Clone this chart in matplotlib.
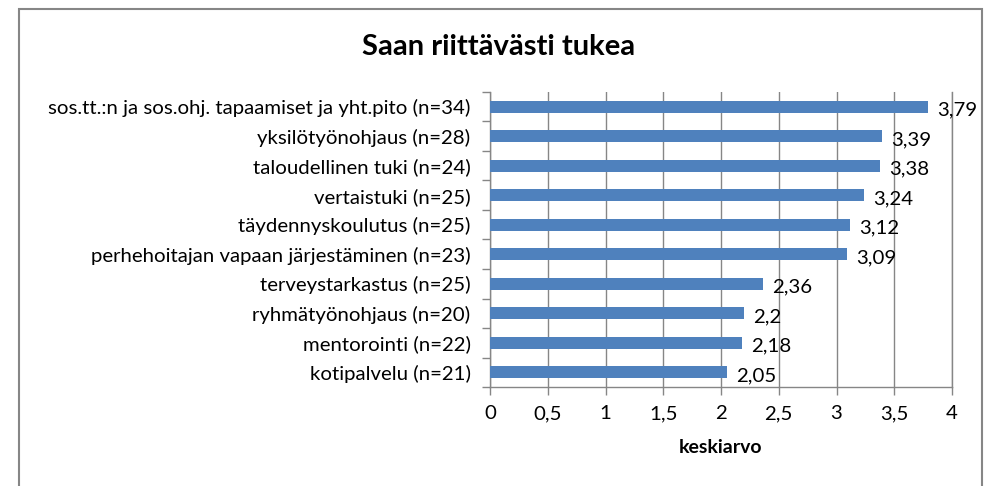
import matplotlib.pyplot as plt
from matplotlib.patches import Rectangle
from matplotlib.ticker import FixedLocator

plt.rcParams['font.family'] = ['Lato', 'DejaVu Sans']

labels = [
    "sos.tt.:n ja sos.ohj. tapaamiset ja yht.pito (n=34)",
    "yksilötyönohjaus (n=28)",
    "taloudellinen tuki (n=24)",
    "vertaistuki (n=25)",
    "täydennyskoulutus (n=25)",
    "perhehoitajan vapaan järjestäminen (n=23)",
    "terveystarkastus (n=25)",
    "ryhmätyönohjaus (n=20)",
    "mentorointi (n=22)",
    "kotipalvelu (n=21)",
]
values = [3.79, 3.39, 3.38, 3.24, 3.12, 3.09, 2.36, 2.2, 2.18, 2.05]
x_ticks = [0, 0.5, 1, 1.5, 2, 2.5, 3, 3.5, 4]

W, H = 987, 486
fig = plt.figure(figsize=(W / 100, H / 100), dpi=100)

# outer chart border (Excel style)
fig.patches.append(Rectangle((19 / W, -0.05), (982 - 19) / W, 1.05 - 9 / H,
                             transform=fig.transFigure, fill=False,
                             edgecolor='#868686', linewidth=1.5))

ax = fig.add_axes([490 / W, 1 - 387 / H, (952 - 490) / W, (387 - 92) / H])

y = list(range(len(labels)))
ax.barh(y, values, height=0.4, color='#4F81BD', zorder=3)
ax.set_ylim(len(labels) - 0.5, -0.5)
ax.set_xlim(0, 4)

fs = 14.7
ax.set_yticks(y)
ax.set_yticklabels(labels, fontsize=fs)
ax.tick_params(axis='y', length=0, pad=14)
ax.yaxis.set_minor_locator(FixedLocator([i - 0.5 for i in range(len(labels) + 1)]))
ax.tick_params(axis='y', which='minor', length=6, color='#868686', width=1)

ax.set_xticks(x_ticks)
ax.set_xticklabels([str(t).replace('.', ',') if t % 1 else str(int(t)) for t in x_ticks], fontsize=fs)
ax.tick_params(axis='x', length=6, color='#868686', width=1, pad=7)

ax.grid(axis='x', color='#868686', linewidth=1, zorder=0)
ax.spines['top'].set_visible(False)
for s in ['left', 'bottom', 'right']:
    ax.spines[s].set_color('#868686')
    ax.spines[s].set_linewidth(1)

for i, v in enumerate(values):
    ax.text(v + 0.08, i + 0.12, str(v).replace('.', ','), va='center', ha='left', fontsize=fs)

ax.set_xlabel('keskiarvo', fontsize=14, fontweight='bold', labelpad=12)
fig.text(499 / W, 1 - 47 / H, 'Saan riittävästi tukea', ha='center', va='center',
         fontsize=21, fontweight='bold')

fig.savefig('out.png', dpi=100)
